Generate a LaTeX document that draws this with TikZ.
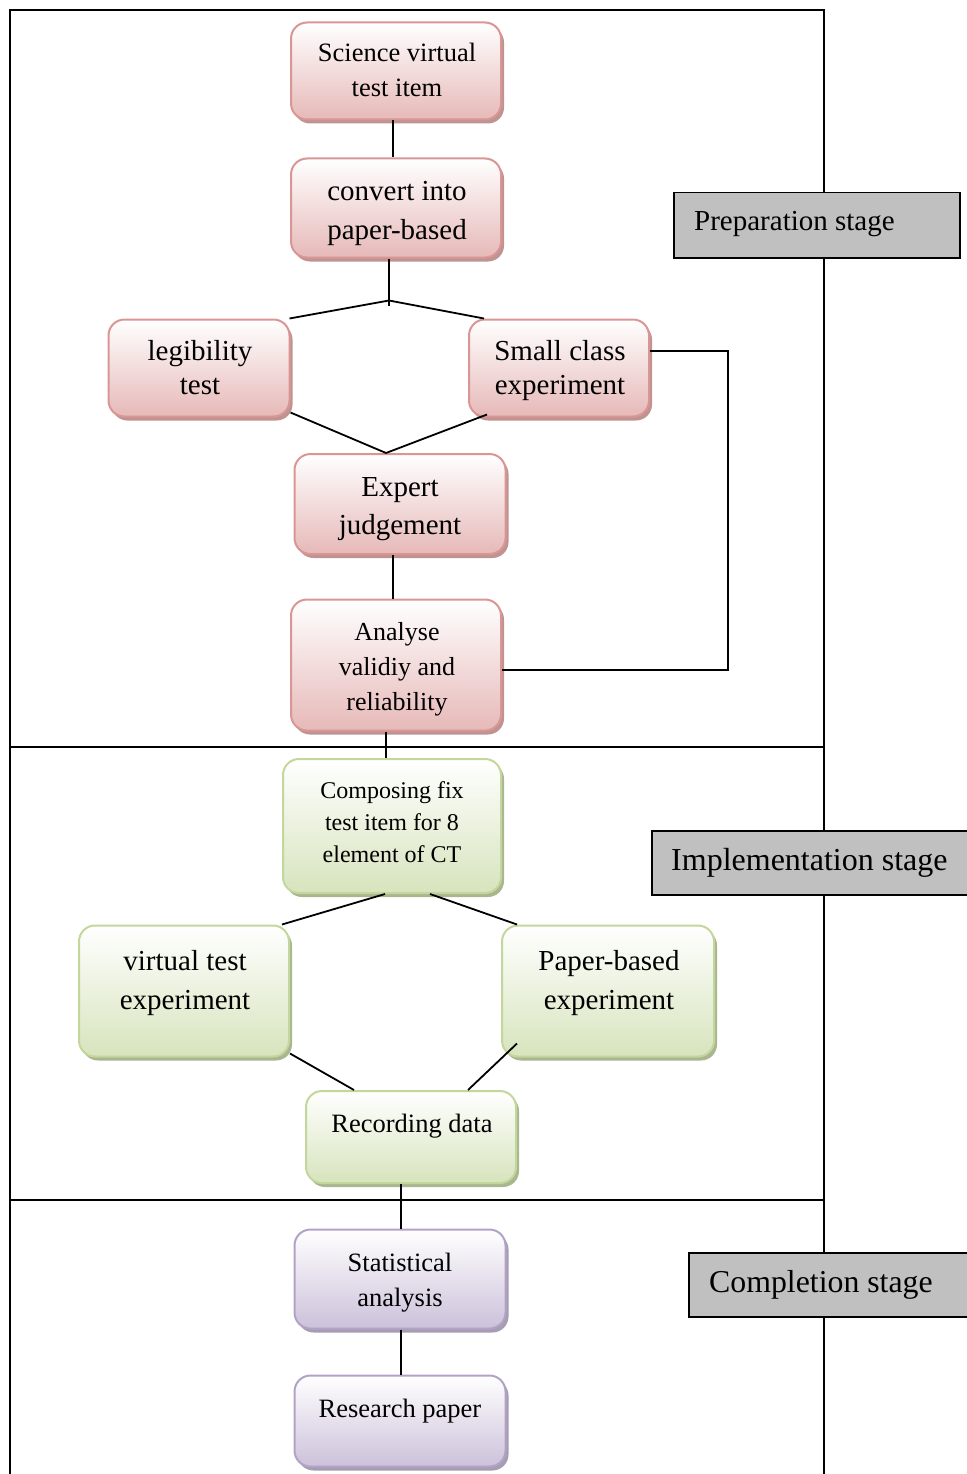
\documentclass[tikz,border=0pt]{standalone}
\usepackage{fontspec}
\setmainfont{Liberation Serif}
\usetikzlibrary{calc,shadows}
\definecolor{redB}{HTML}{D99694}
\definecolor{redF}{HTML}{E6B9B8}
\definecolor{redS}{HTML}{BE9392}
\definecolor{greenB}{HTML}{C3D69B}
\definecolor{greenF}{HTML}{D7E4BD}
\definecolor{greenS}{HTML}{A9B690}
\definecolor{purB}{HTML}{B3A2C7}
\definecolor{purF}{HTML}{CCC1DA}
\definecolor{purS}{HTML}{A69DB2}
\definecolor{stagegray}{HTML}{C0C0C0}
\tikzset{
  stepbox/.style={rounded corners=16pt, line width=2pt, inner sep=0pt},
  redbox/.style={stepbox, draw=redB, top color=white, bottom color=redF,
     drop shadow={shadow xshift=3pt, shadow yshift=-4pt, fill=redS, opacity=1}},
  greenbox/.style={stepbox, draw=greenB, top color=white, bottom color=greenF,
     drop shadow={shadow xshift=3pt, shadow yshift=-4pt, fill=greenS, opacity=1}},
  purbox/.style={stepbox, draw=purB, top color=white, bottom color=purF,
     drop shadow={shadow xshift=3pt, shadow yshift=-4pt, fill=purS, opacity=1}},
  txt/.style={align=center, inner sep=0pt},
  link/.style={draw=black, line width=1.8pt},
  stagebox/.style={draw=black, line width=1.5pt, fill=stagegray, inner sep=0pt, anchor=north west},
  stagetxt/.style={anchor=west, inner sep=0pt},
  frameline/.style={line width=2pt}
}
\newcommand{\fs}[2]{\fontsize{#1}{#2}\selectfont}
\begin{document}
\begin{tikzpicture}[x=1pt, y=-1pt]
\useasboundingbox (0,0) rectangle (966,1474);
% frame
\draw[frameline] (10,1480) -- (10,10) -- (824,10) -- (824,1480);
\draw[frameline] (10,747) -- (824,747);
\draw[frameline] (10,1200) -- (824,1200);
% stage labels
\node[stagebox, minimum width=286pt, minimum height=65pt] (s1) at (673,192) {};
\node[stagetxt, font=\fs{29}{35}] (s1t) at (694,224) {Preparation stage};
\node[stagebox, minimum width=325pt, minimum height=64pt] (s2) at (651,830) {};
\node[stagetxt, font=\fs{32}{37}] (s2t) at (671,863) {Implementation stage};
\node[stagebox, minimum width=290pt, minimum height=64pt] (s3) at (688,1252) {};
\node[stagetxt, font=\fs{31.8}{37}] (s3t) at (709,1285) {Completion stage};
% boxes
\node[redbox, minimum width=210pt, minimum height=97pt] (n1) at (396,71) {};
\node[redbox, minimum width=210pt, minimum height=99pt] (n2) at (396,208) {};
\node[redbox, minimum width=181pt, minimum height=97pt] (n3) at (199,368) {};
\node[redbox, minimum width=180pt, minimum height=97pt] (n4) at (559,368) {};
\node[redbox, minimum width=211pt, minimum height=100pt] (n5) at (400,504) {};
\node[redbox, minimum width=210pt, minimum height=131pt] (n6) at (396,665) {};
\node[greenbox, minimum width=218pt, minimum height=134pt] (n7) at (392,826) {};
\node[greenbox, minimum width=210pt, minimum height=131pt] (n8) at (184,991) {};
\node[greenbox, minimum width=212pt, minimum height=131pt] (n9) at (608,991) {};
\node[greenbox, minimum width=210pt, minimum height=92pt] (n10) at (411,1137) {};
\node[purbox, minimum width=211pt, minimum height=99pt] (n11) at (400,1279) {};
\node[purbox, minimum width=211pt, minimum height=91pt] (n12) at (400,1421) {};
% texts
\node[txt, font=\fs{26.5}{35}] (t1) at (397,70) {Science virtual\\test item};
\node[txt, font=\fs{29}{39}] (t2) at (397,213) {convert into\\paper-based};
\node[txt, font=\fs{29}{34}] (t3) at (200,368) {legibility\\test};
\node[txt, font=\fs{29}{34}] (t4) at (560,371) {Small class\\experiment};
\node[txt, font=\fs{29}{38}] (t5) at (400,509) {Expert\\judgement};
\node[txt, font=\fs{26}{35}] (t6) at (397,669) {Analyse\\validiy and\\reliability};
\node[txt, font=\fs{24}{32}] (t7) at (392,822) {Composing fix\\test item for 8\\element of CT};
\node[txt, font=\fs{29}{39}] (t8) at (185,983) {virtual test\\experiment};
\node[txt, font=\fs{29}{39}] (t9) at (609,983) {Paper-based\\experiment};
\node[txt, font=\fs{26.5}{35}] (t10) at (412,1126) {Recording data};
\node[txt, font=\fs{26.5}{35}] (t11) at (400,1283) {Statistical\\analysis};
\node[txt, font=\fs{26.5}{35}] (t12) at (400,1411) {Research paper};
% connectors
\draw[link] ($(n1.south)+(-3,0)$) -- ($(n2.north)+(-3,0)$);
\coordinate (j1) at ($(n2.south)+(-7,42)$);
\draw[link] ($(n2.south)+(-7,0)$) -- ($(j1)+(0,5)$);
\draw[link] (j1) -- ($(n3.north east)+(-1,0)$);
\draw[link] (j1) -- ($(n4.north west)+(16,0)$);
\coordinate (j2) at ($(n5.north)+(-14,0)$);
\draw[link] ($(n3.south east)+(0,-5)$) -- (j2);
\draw[link] ($(n4.south west)+(19,-3)$) -- (j2);
\draw[link] ($(n5.south)+(-7,0)$) -- ($(n6.north)+(-3,0)$);
\coordinate (c1) at ($(n4.east)+(78,-17)$);
\coordinate (c2) at ($(n6.east)+(226,5)$);
\draw[link] ($(n4.east)+(0,-17)$) -- (c1) -- (c2) -- ($(n6.east)+(0,5)$);
\draw[link] ($(n6.south)+(-10,0)$) -- ($(n7.north)+(-6,0)$);
\draw[link] ($(n7.south)+(-7,0)$) -- ($(n8.north east)+(-8,0)$);
\draw[link] ($(n7.south)+(38,0)$) -- ($(n9.north west)+(16,0)$);
\draw[link] ($(n8.south east)+(0,-4)$) -- ($(n10.north west)+(49,0)$);
\draw[link] ($(n9.south west)+(16,-14)$) -- ($(n10.north west)+(163,0)$);
\draw[link] ($(n10.south)+(-10,0)$) -- ($(n11.north)+(1,0)$);
\draw[link] ($(n11.south)+(1,0)$) -- ($(n12.north)+(1,0)$);
\end{tikzpicture}
\end{document}
